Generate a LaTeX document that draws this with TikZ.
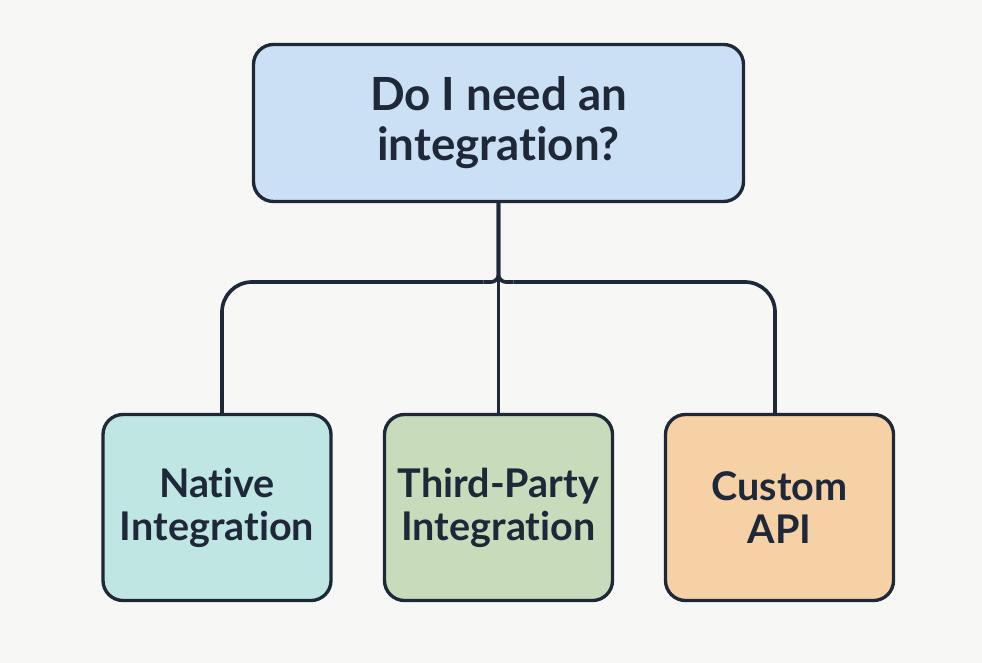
\documentclass[tikz,border=0pt]{standalone}
\usepackage{fontspec}
\setmainfont{Lato}[Ligatures=NoCommon]
\usetikzlibrary{positioning}

\definecolor{ink}{HTML}{1E2838}
\definecolor{paper}{HTML}{F7F7F5}
\definecolor{askblue}{HTML}{CCE0F5}
\definecolor{nativeteal}{HTML}{C0E6E4}
\definecolor{partygreen}{HTML}{C8DCBC}
\definecolor{apiorange}{HTML}{F7D1A6}

\tikzset{
  box/.style={draw=ink, line width=1.9pt, rounded corners=0.4cm, align=center,
    text=ink, inner sep=2pt, font=\bfseries\fontsize{22.5}{24.5}\selectfont,
    minimum width=4.56cm, minimum height=3.72cm},
  link/.style={draw=ink, line width=2.1pt}
}

\begin{document}
\begin{tikzpicture}
\fill[paper] (0,0) rectangle (19.64,-13.26);
\useasboundingbox (0,0) rectangle (19.64,-13.26);

\node[box, fill=askblue, minimum width=9.8cm, minimum height=3.14cm,
  font=\bfseries\fontsize{26}{28.5}\selectfont] (ask) at (9.97,-2.46) {Do I need an\\integration?};

\node[box, fill=nativeteal] (native) at (4.34,-10.15) {Native\\Integration};
\node[box, fill=partygreen] (party) at (9.97,-10.15) {Third-Party\\Integration};
\node[box, fill=apiorange] (api) at (15.59,-10.15) {Custom\\API};

\coordinate (split) at (9.97,-5.64);
\coordinate (nl) at (4.44,-5.64);
\coordinate (ar) at (15.5,-5.64);

\draw[link] (ask.south) -- (party.north);
\draw[link, rounded corners=0.15cm] (ask.south) |- ([xshift=-0.3cm]split);
\draw[link, rounded corners=0.15cm] (ask.south) |- ([xshift=0.3cm]split);
\draw[link, rounded corners=0.6cm] ([xshift=-0.3cm]split) -- (nl) -- (nl |- native.north);
\draw[link, rounded corners=0.6cm] ([xshift=0.3cm]split) -- (ar) -- (ar |- api.north);

\end{tikzpicture}
\end{document}
